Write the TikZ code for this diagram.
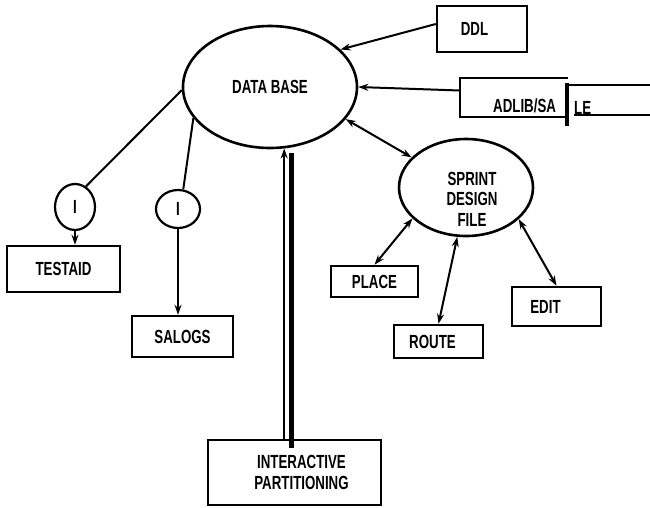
\documentclass[tikz,border=0pt]{standalone}
\usepackage{fontspec}
\setmainfont{Liberation Sans}[FakeStretch=0.7]
\usetikzlibrary{shapes.geometric,arrows.meta}
\begin{document}
\begin{tikzpicture}[x=1pt,y=-1pt,
  font=\fontsize{19}{20.5}\selectfont\bfseries,
  box/.style={draw,line width=2.5pt,inner sep=0pt,rectangle},
  oval/.style={draw,line width=2.6pt,ellipse,inner sep=0pt},
  tip/.style={-{Stealth[length=10pt,width=7pt]}},
  conn/.style={line width=2pt,tip},
  bi/.style={line width=2pt,{Stealth[length=10pt,width=7pt]}-{Stealth[length=10pt,width=7pt]}},
  plain/.style={line width=2pt},
  txt/.style={inner sep=0pt}]
\useasboundingbox (0,0) rectangle (650,507);
% ovals
\node[oval,minimum width=174pt,minimum height=122pt] (db) at (270,87) {\raisebox{-3pt}{DATA BASE}};
\node[oval,minimum width=134pt,minimum height=97pt] (sprint) at (466,187.5) {};
\node[txt,align=center] (sprinttxt) at (472,199) {SPRINT\\DESIGN\\FILE};
\node[oval,line width=2.2pt,minimum width=40pt,minimum height=46pt] (c1) at (75,207) {I};
\node[oval,line width=2.2pt,minimum width=44pt,minimum height=38pt] (c2) at (178,209) {I};
% boxes
\node[box,minimum width=90pt,minimum height=46pt] (ddl) at (482,29) {DDL\hspace*{15pt}};
\node[txt,minimum width=108pt,minimum height=39pt] (adlib) at (514,97.5) {};
\draw[line width=2.5pt] (adlib.north east) -- (adlib.north west) -- (adlib.south west) -- (adlib.south east);
\node[txt,anchor=west] (adlibtxt) at (493,106) {ADLIB/SA};
\node[txt,anchor=west] (letxt) at (574,108) {LE};
\coordinate (brtop) at (567,83);
\coordinate (brbot) at (567,126);
\draw[line width=3.5pt] (brtop) -- (brbot);
\coordinate (ltop) at (567,85);
\coordinate (rtop) at (650,85);
\coordinate (lbot) at (574,115);
\coordinate (rbot) at (650,115);
\draw[line width=2.5pt] (ltop) -- (rtop);
\draw[line width=2.5pt] (lbot) -- (rbot);
\node[box,minimum width=113pt,minimum height=46pt] (testaid) at (63.5,269) {TESTAID};
\node[box,minimum width=101pt,minimum height=41pt] (salogs) at (182.5,336.5) {\raisebox{-4pt}{SALOGS}};
\node[box,minimum width=87pt,minimum height=31pt] (place) at (374.5,281.5) {PLACE};
\node[box,minimum width=89pt,minimum height=33pt] (route) at (438.5,341.5) {\raisebox{-3pt}{ROUTE}\hspace*{12pt}};
\node[box,minimum width=89pt,minimum height=39pt] (edit) at (556.5,306.5) {EDIT\hspace*{22pt}};
\node[box,align=center,minimum width=173pt,minimum height=65pt] (ip) at (294.5,472.5) {\hspace*{14pt}INTERACTIVE\\\hspace*{14pt}PARTITIONING};
% connectors
\draw[conn] ([yshift=5pt]ddl.west) -- (db.28);
\draw[conn] ([yshift=7pt]adlib.west) -- (db.east);
\draw[bi] (db.-23) -- (sprint.151);
\draw[bi] (place.north) -- (sprint.210);
\draw[bi] (route.north) -- (sprint.260);
\draw[bi] (edit.north) -- (sprint.-31);
\draw[plain] (db.182) -- (c1.62);
\draw[conn] (c1.south) -- (c1.south |- testaid.north);
\draw[plain] (db.202) -- (c2.75);
\draw[conn] (c2.south) -- (c2.south |- salogs.north);
\draw[conn] (ip.north -| db.-77) -- (db.-77);
\coordinate (bartop) at (291,153);
\coordinate (barbot) at (291,448);
\draw[line width=5pt] (barbot) -- (bartop);
\end{tikzpicture}
\end{document}
